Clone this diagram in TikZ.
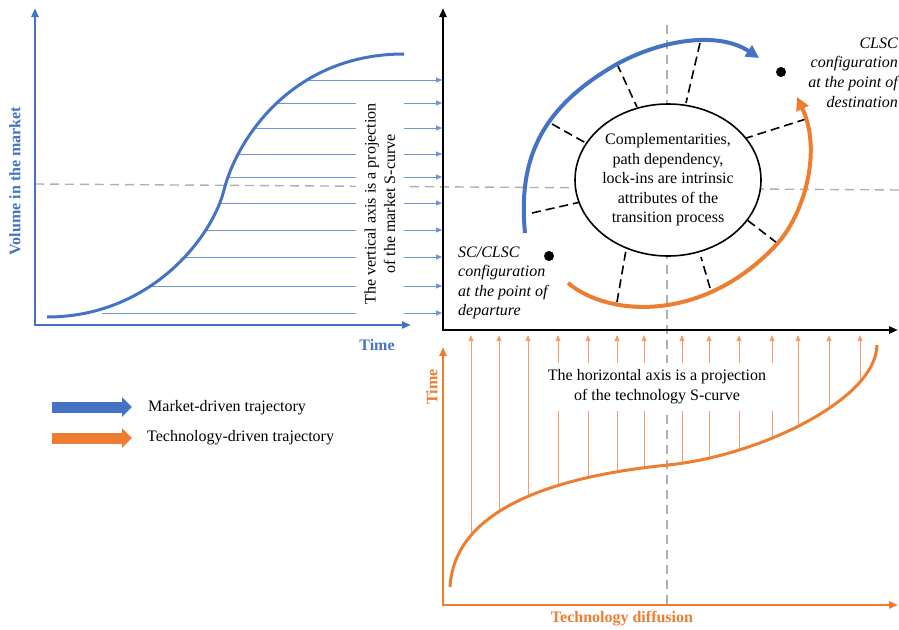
\documentclass[tikz,border=0pt]{standalone}
\usepackage{fontspec}
\setmainfont{Liberation Serif}
\usetikzlibrary{arrows.meta,shapes.geometric}
\definecolor{mblue}{HTML}{4472C4}
\definecolor{morange}{HTML}{ED7D31}
\definecolor{lblue}{HTML}{6E93D6}
\definecolor{lorange}{HTML}{F2A06A}
\definecolor{dgray}{HTML}{AFAFAF}
\tikzset{
  axisblue/.style={draw=mblue,line width=2.6pt,{Triangle[length=9pt,width=7pt]}-{Triangle[length=9pt,width=7pt]}},
  axisblack/.style={draw=black,line width=2.6pt,{Triangle[length=9pt,width=7pt]}-{Triangle[length=9pt,width=7pt]}},
  axisorange/.style={draw=morange,line width=2.6pt,{Triangle[length=9pt,width=7pt]}-{Triangle[length=9pt,width=7pt]}},
  gdash/.style={draw=dgray,line width=1.4pt,dash pattern=on 9pt off 6pt},
  spoke/.style={draw=black,line width=1.6pt,dash pattern=on 9pt off 5pt},
  projb/.style={draw=lblue,line width=0.9pt,-{Triangle[length=6pt,width=5pt]}},
  projo/.style={draw=lorange,line width=0.9pt,-{Triangle[length=6pt,width=5pt]}},
  trajb/.style={draw=mblue,line width=4pt,-{Triangle[length=13pt,width=13pt]}},
  trajo/.style={draw=morange,line width=4pt,-{Triangle[length=13pt,width=13pt]}},
  lblb/.style={font=\fontsize{16}{19.5}\selectfont\bfseries,text=mblue},
  lblo/.style={font=\fontsize{16}{19.5}\selectfont\bfseries,text=morange},
  itxt/.style={font=\fontsize{16}{19.6}\selectfont\itshape,inner sep=0pt},
  coverbox/.style={fill=white,inner sep=0pt,align=center},
  legarrow/.style={line width=11pt,-{Triangle[length=10pt,width=19pt]}},
}
\begin{document}
\begin{tikzpicture}[x=1pt,y=-1pt,font=\fontsize{16}{19.5}\selectfont]
\useasboundingbox (0,0) rectangle (899,629);

% gray dashed guides
\coordinate (gh1) at (35,184);
\coordinate (gh2) at (899,190);
\coordinate (gv1) at (667,25);
\coordinate (gv2) at (667,605);
\draw[gdash] (gh1) -- (gh2);
\draw[gdash] (gv1) -- (gv2);

% blue projection lines
\foreach \i/\xs/\yy in {1/308/80,2/276/103,3/256/128,4/239/154,5/228/177,6/221/203,7/205/230,8/185/257,9/151/286,10/102/313}{
  \coordinate (bs\i) at (\xs,\yy);
  \coordinate (be\i) at (442,\yy);
  \draw[projb] (bs\i) -- (be\i);
}
% orange projection lines
\foreach \i/\xx/\ys in {1/471/535,2/499/513,3/528/497,4/558/485,5/588/477,6/617/471,7/644/467,8/682/463,9/709/458,10/739/450,11/772/439,12/798/426,13/829/408,14/860/382}{
  \coordinate (os\i) at (\xx,\ys);
  \coordinate (oe\i) at (\xx,335);
  \draw[projo] (os\i) -- (oe\i);
}

% text boxes covering the projections
\node[coverbox,rotate=90,minimum width=228pt,minimum height=48pt] (vtext) at (380,204)
  {The vertical axis is a projection\\of the market S-curve};
\node[coverbox,minimum width=232pt,minimum height=48pt] (htext) at (657,386.5)
  {The horizontal axis is a projection\\of the technology S-curve};

% S-curves
\coordinate (bc0) at (47,317); \coordinate (bc1) at (224,190); \coordinate (bc2) at (404,54);
\draw[draw=mblue,line width=3pt] (bc0) .. controls (150,317) and (212,238) .. (bc1)
  .. controls (236,142) and (290,54) .. (bc2);
\coordinate (oc0) at (450,587); \coordinate (oc1) at (668,465); \coordinate (oc2) at (877,345);
\draw[draw=morange,line width=3pt] (oc0) .. controls (455,500) and (578,474) .. (oc1)
  .. controls (758,456) and (876,400) .. (oc2);

% axes
\coordinate (bT) at (35,8); \coordinate (bO) at (35,325); \coordinate (bR) at (411,325);
\draw[axisblue] (bT) -- (bO) -- (bR);
\coordinate (kT) at (443,8); \coordinate (kO) at (443,330); \coordinate (kR) at (898,330);
\draw[axisblack] (kT) -- (kO) -- (kR);
\coordinate (oT) at (443,347); \coordinate (oO) at (443,605); \coordinate (oR) at (898,605);
\draw[axisorange] (oT) -- (oO) -- (oR);

% axis labels
\node[lblb] (timeb) at (377,345) {Time};
\node[lblb,rotate=90] (vol) at (15,181) {Volume in the market};
\node[lblo,rotate=90] (timeo) at (432,387) {Time};
\node[lblo] (techd) at (622,619) {Technology diffusion};

% spokes
\foreach \i/\ax/\ay/\bx/\by in {1/617/64/637/107,2/700/43/686/103,3/552/124/593/147,4/806/119/740/140,5/532/213/585/201,6/777/243/742/216,7/617/302/626/250,8/710/288/701/257}{
  \coordinate (sa\i) at (\ax,\ay);
  \coordinate (sb\i) at (\bx,\by);
  \draw[spoke] (sa\i) -- (sb\i);
}

% central circle
\node[ellipse,draw,line width=1.6pt,fill=white,minimum width=164pt,minimum height=152pt,inner sep=0pt,align=center] (core) at (668,180)
  {Complementarities,\\path dependency,\\lock-ins are intrinsic\\attributes of the\\transition process};

% trajectories
\coordinate (tb0) at (525,233); \coordinate (tb1) at (617,64); \coordinate (tb2) at (759,58);
\draw[trajb] (tb0) .. controls (518,160) and (540,108) .. (tb1) .. controls (665,38) and (720,32) .. (tb2);
\coordinate (to0) at (568,283); \coordinate (to1) at (777,244); \coordinate (to2) at (797,97);
\draw[trajo] (to0) .. controls (610,318) and (705,322) .. (to1) .. controls (805,213) and (822,150) .. (to2);

% configurations
\fill (549,256) circle (5pt) coordinate (dep);
\fill (781,72) circle (5pt) coordinate (dest);
\node[itxt,anchor=west,align=left] (deptxt) at (458,283) {SC/CLSC\\configuration\\at the point of\\departure};
\node[itxt,anchor=east,align=right] (desttxt) at (898,72.5) {CLSC\\configuration\\at the point of\\destination};

% legend
\coordinate (l1a) at (52,407); \coordinate (l1b) at (132,407);
\coordinate (l2a) at (52,438); \coordinate (l2b) at (132,438);
\draw[legarrow,mblue] (l1a) -- (l1b);
\draw[legarrow,morange] (l2a) -- (l2b);
\node[anchor=west,inner sep=0pt] (leg1) at (148,408) {Market-driven trajectory};
\node[anchor=west,inner sep=0pt] (leg2) at (147,438) {Technology-driven trajectory};
\end{tikzpicture}
\end{document}
